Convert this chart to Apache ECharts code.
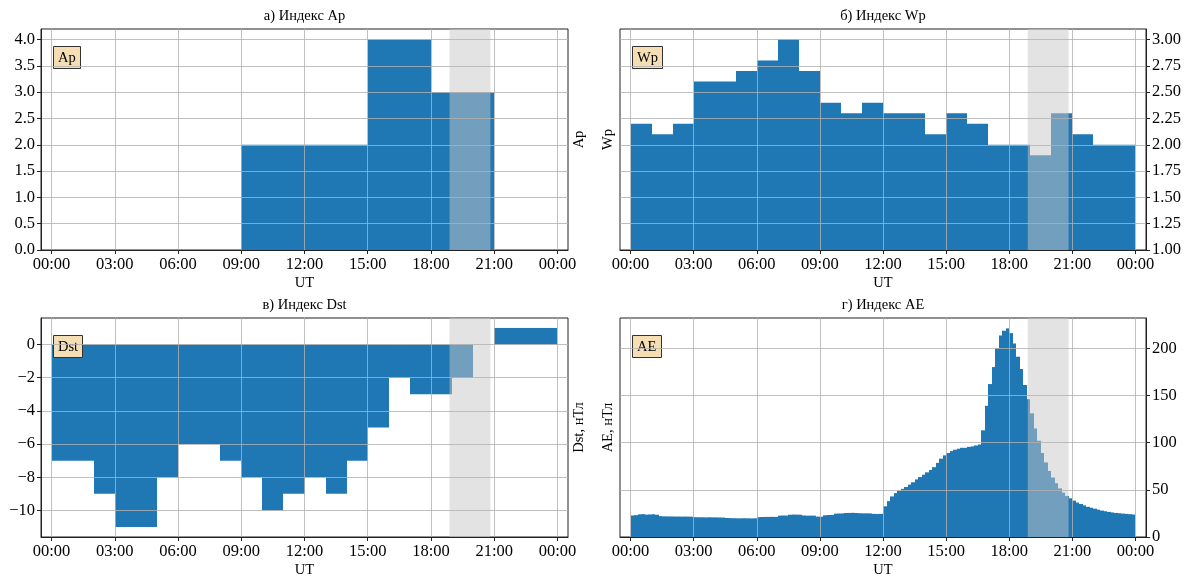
<!DOCTYPE html>
<html>
<head>
<meta charset="utf-8">
<script src="https://cdn.jsdelivr.net/npm/echarts@6/dist/echarts.min.js"></script>
<style>
  html, body { margin: 0; padding: 0; background: #ffffff; }
  #chart { width: 1184px; height: 579px; }
</style>
</head>
<body>
<div id="chart"></div>
<script>
// Time axis (hours of the day, UT)
const hourTicks = [0, 3, 6, 9, 12, 15, 18, 21, 24];
const hourLabels = ['00:00', '03:00', '06:00', '09:00', '12:00', '15:00', '18:00', '21:00', '00:00'];

// Ap index, 3-hour bins starting at 00:00 (null = not yet available)
const apValues = [0, 0, 0, 2, 2, 4, 3, null];

// Wp index, hourly
const wpValues = [2.2, 2.1, 2.2, 2.6, 2.6, 2.7, 2.8, 3.0, 2.7, 2.4, 2.3, 2.4,
                  2.3, 2.3, 2.1, 2.3, 2.2, 2.0, 2.0, 1.9, 2.3, 2.1, 2.0, 2.0];

// Dst index, hourly, nT (null = missing hour)
const dstValues = [-7, -7, -9, -11, -11, -8, -6, -6, -7, -8, -10, -9,
                   -8, -9, -7, -5, -2, -3, -3, -2, null, 1, 1, 1];

// AE index, 10-minute values, nT
const aeValues = [
  22.8, 23.1, 24.0, 24.2, 23.7, 23.9, 24.1, 23.6, 22.1, 21.9, 21.8, 21.8,
  21.7, 21.7, 21.6, 21.7, 21.6, 21.5, 21.0, 20.9, 20.9, 20.8, 20.9, 20.8,
  20.8, 20.7, 20.6, 20.1, 20.0, 19.9, 19.8, 19.8, 19.9, 19.8, 19.7, 19.8,
  21.0, 21.2, 21.3, 21.3, 21.4, 21.3, 22.6, 22.8, 22.7, 23.6, 23.8, 23.7,
  23.6, 22.8, 22.6, 22.7, 22.6, 21.6, 21.5, 23.0, 23.3, 23.4, 24.7, 24.9,
  25.0, 25.4, 25.5, 25.6, 25.4, 25.2, 25.1, 25.1, 25.0, 24.5, 24.4, 24.5,
  32.5, 38.0, 43.0, 46.5, 49.0, 51.0, 53.0, 55.5, 58.0, 61.0, 63.5, 66.0,
  68.5, 71.0, 74.0, 78.5, 83.0, 86.5, 89.0, 91.0, 92.5, 93.5, 94.5, 94.5,
  95.5, 96.0, 97.0, 98.0, 113.0, 139.0, 162.0, 180.0, 200.0, 213.5, 218.5, 221.0,
  216.0, 205.0, 191.0, 178.0, 161.0, 146.0, 131.0, 115.0, 102.0, 89.0, 79.0, 70.0,
  63.0, 57.0, 51.5, 47.0, 43.5, 41.0, 38.5, 36.5, 35.0, 33.5, 32.0, 31.0,
  30.0, 29.0, 28.0, 27.3, 26.6, 26.0, 25.5, 25.2, 24.8, 24.5, 24.2, 23.8
];

// Highlighted interval (hours UT)
const shadeStart = 18.88;
const shadeEnd = 20.82;

// Value-axis ticks
const apTicks = [0, 0.5, 1, 1.5, 2, 2.5, 3, 3.5, 4];
const wpTicks = [1, 1.25, 1.5, 1.75, 2, 2.25, 2.5, 2.75, 3];
const dstTicks = [-10, -8, -6, -4, -2, 0];
const aeTicks = [0, 50, 100, 150, 200];

// ---------------------------------------------------------------
const FONT = 'Liberation Serif';
const BAR = '#1f77b4';
const INK = '#222222';
const GRIDLINE = 'rgba(176,176,176,0.8)';
const TICK_FONT = 16.5;

// Turn a regular series into [start, end, value] bins (hours)
function bins(values, widthHours) {
  const out = [];
  values.forEach((v, i) => {
    if (v !== null) out.push([i * widthHours, (i + 1) * widthHours, v]);
  });
  return out;
}

function stepBars(base) {
  return function (params, api) {
    const a = api.coord([api.value(0), api.value(2)]);
    const b = api.coord([api.value(1), base]);
    const x0 = Math.round(a[0]);
    const x1 = Math.round(b[0]);
    return {
      type: 'rect',
      shape: { x: x0, y: Math.min(a[1], b[1]), width: x1 - x0, height: Math.abs(b[1] - a[1]) },
      style: { fill: BAR }
    };
  };
}

function shadeBand(params, api) {
  const cs = params.coordSys;
  const a = api.coord([api.value(0), 0]);
  const b = api.coord([api.value(1), 0]);
  return {
    type: 'rect',
    shape: { x: a[0], y: cs.y, width: b[0] - a[0], height: cs.height },
    style: { fill: 'rgba(200,200,200,0.5)' }
  };
}

const minus = v => (v < 0 ? '\u2212' + Math.abs(v) : String(v));

// Panel layout
const panels = [
  { left: 41,  top: 29,  width: 527, height: 221 },
  { left: 620, top: 29,  width: 526, height: 221 },
  { left: 41,  top: 318, width: 527, height: 222 },
  { left: 620, top: 318, width: 526, height: 222 }
];

function xAxisFor(gi) {
  return {
    type: 'value', gridIndex: gi, min: -0.5, max: 24.5, z: 10,
    axisLine: { show: true, onZero: false, lineStyle: { color: INK, width: 1 } },
    axisTick: { show: true, length: 4, customValues: hourTicks, lineStyle: { color: INK, width: 1 } },
    axisLabel: {
      customValues: hourTicks,
      formatter: v => hourLabels[hourTicks.indexOf(v)],
      fontFamily: FONT, fontSize: TICK_FONT, color: '#000', margin: 6
    },
    splitLine: { show: true, lineStyle: { color: GRIDLINE, width: 1 } },
    name: 'UT', nameLocation: 'middle', nameGap: 26,
    nameTextStyle: { fontFamily: FONT, fontSize: 14.5, color: '#000' }
  };
}

function yTickAxis(gi, pos, min, max, ticks, fmt) {
  return {
    type: 'value', gridIndex: gi, position: pos, min: min, max: max, z: 10,
    axisLine: { show: true, onZero: false, lineStyle: { color: INK, width: 1 } },
    axisTick: { show: true, length: 4, customValues: ticks, lineStyle: { color: INK, width: 1 } },
    axisLabel: { customValues: ticks, formatter: fmt, fontFamily: FONT, fontSize: TICK_FONT, color: '#000', margin: 6 },
    splitLine: { show: true, lineStyle: { color: GRIDLINE, width: 1 } }
  };
}

function yNameAxis(gi, pos, min, max, name) {
  return {
    type: 'value', gridIndex: gi, position: pos, min: min, max: max, z: 10,
    axisLine: { show: false, onZero: false },
    axisTick: { show: false },
    axisLabel: { show: false },
    splitLine: { show: false },
    name: name, nameLocation: 'middle', nameGap: 4, nameRotate: 90,
    nameTextStyle: { fontFamily: FONT, fontSize: 14.5, color: '#000', verticalAlign: pos === 'left' ? 'bottom' : 'top' }
  };
}

const panelTitles = ['а) Индекс Ap', 'б) Индекс Wp', 'в) Индекс Dst', 'г) Индекс AE'];
const boxLabels = ['Ap', 'Wp', 'Dst', 'AE'];

const titles = [];
panels.forEach((p, i) => {
  titles.push({
    text: panelTitles[i], left: p.left + p.width / 2, top: p.top - 20, textAlign: 'center',
    padding: 0,
    textStyle: { fontFamily: FONT, fontSize: 14.5, fontWeight: 'normal', color: '#000' }
  });
  titles.push({
    text: boxLabels[i], left: p.left + 12, top: p.top + 17,
    padding: [4, 5, 3, 5],
    backgroundColor: '#f5deb3', borderColor: '#333', borderWidth: 1,
    textStyle: { fontFamily: FONT, fontSize: 14.5, fontWeight: 'normal', color: '#000', lineHeight: 16 }
  });
});

const option = {
  backgroundColor: '#ffffff',
  animation: false,
  title: titles,
  grid: panels.map(p => ({
    left: p.left, top: p.top, width: p.width, height: p.height,
    show: true, borderColor: INK, borderWidth: 1, backgroundColor: 'transparent'
  })),
  xAxis: [xAxisFor(0), xAxisFor(1), xAxisFor(2), xAxisFor(3)],
  yAxis: [
    yTickAxis(0, 'left', 0, 4.2, apTicks, v => v.toFixed(1)),     // 0
    yNameAxis(0, 'right', 0, 4.2, 'Ap'),                            // 1
    yTickAxis(1, 'right', 1, 3.1, wpTicks, v => v.toFixed(2)),     // 2
    yNameAxis(1, 'left', 1, 3.1, 'Wp'),                             // 3
    yTickAxis(2, 'left', -11.6, 1.6, dstTicks, minus),              // 4
    yNameAxis(2, 'right', -11.6, 1.6, 'Dst, нТл'),                  // 5
    yTickAxis(3, 'right', 0, 232, aeTicks, v => String(v)),         // 6
    yNameAxis(3, 'left', 0, 232, 'AE, нТл')                         // 7
  ],
  series: [
    { type: 'custom', name: 'Ap', xAxisIndex: 0, yAxisIndex: 0, z: 2, clip: true,
      renderItem: stepBars(0), data: bins(apValues, 3) },
    { type: 'custom', name: 'Wp', xAxisIndex: 1, yAxisIndex: 2, z: 2, clip: true,
      renderItem: stepBars(1), data: bins(wpValues, 1) },
    { type: 'custom', name: 'Dst', xAxisIndex: 2, yAxisIndex: 4, z: 2, clip: true,
      renderItem: stepBars(0), data: bins(dstValues, 1) },
    { type: 'custom', name: 'AE', xAxisIndex: 3, yAxisIndex: 6, z: 2, clip: true,
      renderItem: stepBars(0), data: bins(aeValues, 1 / 6) },
    ...[0, 1, 2, 3].map(gi => ({
      type: 'custom', xAxisIndex: gi, yAxisIndex: [0, 2, 4, 6][gi], z: 3, silent: true,
      renderItem: shadeBand, data: [[shadeStart, shadeEnd]]
    }))
  ]
};

const chart = echarts.init(document.getElementById('chart'), null, { renderer: 'canvas' });
chart.setOption(option);
</script>
</body>
</html>
